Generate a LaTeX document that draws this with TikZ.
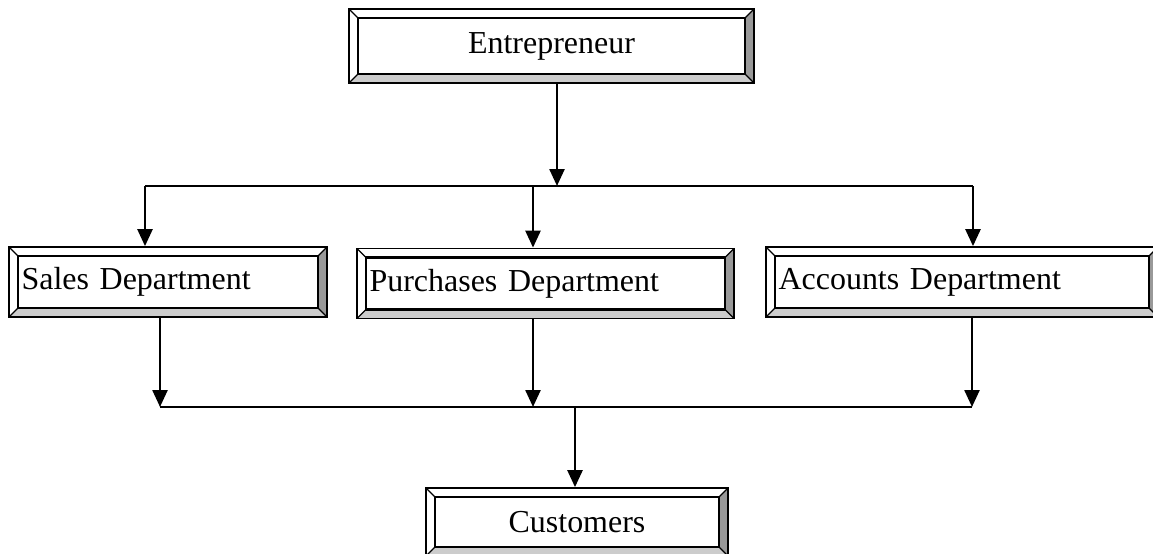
\documentclass[tikz,border=0pt]{standalone}
\usepackage{fontspec}
\setmainfont{Liberation Serif}
\usepackage{tikz}
\usetikzlibrary{positioning, arrows.meta}

\definecolor{bevelbot}{HTML}{CCCCCC}
\definecolor{bevelside}{HTML}{999999}
\def\bv{0.18cm}

\tikzset{
  bevel/.style = {draw, line width=1pt, inner sep=0pt,
    path picture = {
      \coordinate (bsw) at (path picture bounding box.south west);
      \coordinate (bne) at (path picture bounding box.north east);
      \coordinate (bse) at (bsw -| bne);
      \coordinate (bnw) at (bsw |- bne);
      \fill [bevelbot] (bsw) -- (bse) -- ([shift={(-\bv,\bv)}]bse) -- ([shift={(\bv,\bv)}]bsw) -- cycle;
      \fill [bevelside] (bse) -- (bne) -- ([shift={(-\bv,-\bv)}]bne) -- ([shift={(-\bv,\bv)}]bse) -- cycle;
      \draw [line width=0.7pt] (bsw) -- ++(\bv,\bv) (bse) -- ++(-\bv,\bv)
        (bne) -- ++(-\bv,-\bv) (bnw) -- ++(\bv,-\bv);
      \draw [line width=1.4pt] ([shift={(\bv,\bv)}]bsw) rectangle ([shift={(-\bv,-\bv)}]bne);
    }},
  deptbox/.style = {bevel, minimum height=1.4cm, inner xsep=0.25cm, align=left}
}

\begin{document}
\begin{tikzpicture}[x=0.02cm, y=-0.02cm, line width=1.4pt,
    >={Triangle[length=0.34cm, width=0.3cm]},
    font=\fontsize{18.2pt}{22pt}\selectfont]
            \useasboundingbox (0,0) rectangle (1153,554);
            \node (E) [bevel, minimum width=8.1cm, minimum height=1.48cm] at (551.5,46) {Entrepreneur};
            \node (S) [deptbox, text width=5.86cm] at (168,282) {Sales Department};
            \node (P) [deptbox, text width=7.04cm] at (545.5,283.5) {Purchases Department};
            \node (A) [deptbox, text width=7.34cm] at (962,282) {Accounts Department};
            \node (C) [bevel, minimum width=6.04cm, minimum height=1.36cm] at (577,522) {Customers};
            % upper bus
            \coordinate (topL) at (145,186);
            \coordinate (topM) at (557,186);
            \coordinate (topP) at (533,186);
            \coordinate (topR) at (973,186);
            % lower bus
            \coordinate (botL) at (160,407);
            \coordinate (botP) at (533,407);
            \coordinate (botM) at (575,407);
            \coordinate (botR) at (972,407);
            \draw [->] (E.south -| topM) -- (topM);
            \draw (topL) -- (topR);
            \draw [->] (topL) -- (topL |- S.north);
            \draw [->] (topP) -- (topP |- P.north);
            \draw [->] (topR) -- (topR |- A.north);
            \draw [->] (S.south -| botL) -- (botL);
            \draw [->] (P.south -| botP) -- (botP);
            \draw [->] (A.south -| botR) -- (botR);
            \draw (botL) -- (botR);
            \draw [->] (botM) -- (C.north -| botM);
        \end{tikzpicture}
\end{document}
